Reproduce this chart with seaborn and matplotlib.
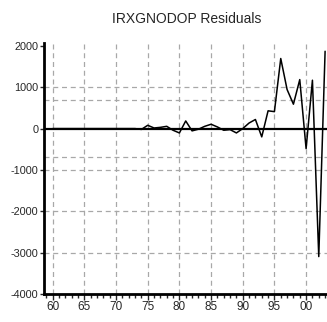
import matplotlib
matplotlib.use("Agg")
import matplotlib.pyplot as plt
import seaborn as sns
import pandas as pd
import numpy as np
from matplotlib.ticker import FixedLocator, MultipleLocator, FuncFormatter

years = list(range(1960, 2004))
residuals = [0]*14 + [
    -20, 80, 15, 30, 55, -40, -105, 185, -55, -15,
    55, 105, 40, -40, -25, -105, 0, 135, 220, -200,
    430, 410, 1695, 945, 590, 1185, -485, 1170, -3095, 1870]
band = 690
y_ticks = [2000, 1000, 0, -1000, -2000, -3000, -4000]
x_ticks = [1960, 1965, 1970, 1975, 1980, 1985, 1990, 1995, 2000]

df = pd.DataFrame({"year": years, "resid": residuals})

sns.set_style("white")
plt.rcParams['font.family'] = ['Liberation Sans', 'DejaVu Sans']

fig = plt.figure(figsize=(3.27, 3.22), dpi=100)
ax = fig.add_axes([44/327, 1-294/322, (327-44)/327, (294-43)/322])

ax.set_xlim(1958.63, 2003.3)
ax.set_ylim(-4000, 2070)

grid_kw = dict(color="#a8a8a8", lw=0.9, ls=(0, (4, 3)), zorder=1)
for x in x_ticks:
    ax.axvline(x, **grid_kw)
for y in [1000, -1000, -2000, -3000]:
    ax.axhline(y, **grid_kw)
for y in [band, -band]:
    ax.axhline(y, **grid_kw)
ax.axhline(0, color="black", lw=1.6, zorder=2)

sns.lineplot(data=df, x="year", y="resid", ax=ax, color="black", lw=1.1, zorder=3)

ax.set_xlabel("")
ax.set_ylabel("")
ax.xaxis.set_major_locator(FixedLocator(x_ticks))
ax.xaxis.set_minor_locator(MultipleLocator(1))
ax.xaxis.set_major_formatter(FuncFormatter(lambda v, p: f"{int(v) % 100:02d}"))
ax.yaxis.set_major_locator(FixedLocator(y_ticks))
ax.yaxis.set_major_formatter(FuncFormatter(lambda v, p: f"{int(v)}"))

for s in ["top", "right"]:
    ax.spines[s].set_visible(False)
for s in ["left", "bottom"]:
    ax.spines[s].set_linewidth(2.0)
    ax.spines[s].set_color("black")

ax.tick_params(axis="x", which="major", direction="out", length=4, width=1, labelsize=8.5, pad=1, bottom=True)
ax.tick_params(axis="x", which="minor", direction="out", length=3, width=1, bottom=True)
ax.tick_params(axis="y", which="major", direction="out", length=3, width=1, labelsize=7.8, pad=1, left=True)

fig.text(187/327, 1-19/322, "IRXGNODOP Residuals", ha="center", va="center", fontsize=10)

fig.savefig("out.png", dpi=100)
